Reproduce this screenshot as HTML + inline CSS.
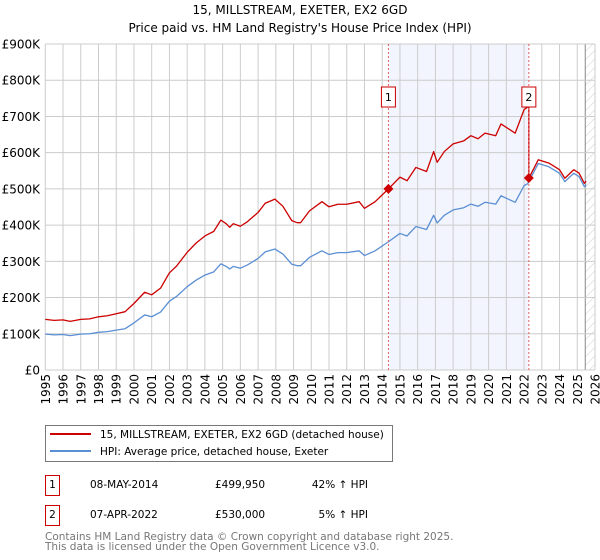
<!DOCTYPE html>
<html><head><meta charset="utf-8"><style>
body{margin:0;background:#fff;}
svg{display:block;font-family:"DejaVu Sans","Liberation Sans",sans-serif;}
</style></head><body>
<svg id="chart" width="600" height="560" viewBox="0 0 600 560" xmlns="http://www.w3.org/2000/svg">
<defs>
<pattern id="hatch" width="6" height="6" patternUnits="userSpaceOnUse" patternTransform="rotate(45)">
<line x1="0" y1="0" x2="0" y2="6" stroke="#ccc" stroke-width="1"/>
</pattern>
</defs>
<text x="300" y="14" text-anchor="middle" font-size="12">15, MILLSTREAM, EXETER, EX2 6GD</text>
<text x="300" y="32" text-anchor="middle" font-size="12">Price paid vs. HM Land Registry's House Price Index (HPI)</text>
<g id="plot"></g>
<g>
<rect x="45.5" y="425.5" width="347" height="36" fill="#fff" stroke="#777"/>
<line x1="50" y1="434" x2="91" y2="434" stroke="#cc0000" stroke-width="2"/>
<text x="100" y="438" font-size="10.5">15, MILLSTREAM, EXETER, EX2 6GD (detached house)</text>
<line x1="50" y1="451" x2="91" y2="451" stroke="#5b8fd4" stroke-width="2"/>
<text x="100" y="455" font-size="10.5">HPI: Average price, detached house, Exeter</text>
</g>
<g font-size="10.5">
<rect x="45.5" y="475.5" width="14" height="20" fill="#fff" stroke="#cc0000"/>
<text x="52.5" y="488" text-anchor="middle">1</text>
<text x="90" y="488">08-MAY-2014</text>
<text x="215" y="488">£499,950</text>
<text x="368" y="488" text-anchor="end">42% ↑ HPI</text>
<rect x="45.5" y="505.5" width="14" height="20" fill="#fff" stroke="#cc0000"/>
<text x="52.5" y="518" text-anchor="middle">2</text>
<text x="90" y="518">07-APR-2022</text>
<text x="215" y="518">£530,000</text>
<text x="368" y="518" text-anchor="end">5% ↑ HPI</text>
</g>
<text x="45" y="540" font-size="10.5" fill="#777">Contains HM Land Registry data © Crown copyright and database right 2025.</text>
<text x="45" y="550" font-size="10.5" fill="#777">This data is licensed under the Open Government Licence v3.0.</text>
</svg>
<script>
const hpiYears=[1995,1995.5,1996,1996.4,1997,1997.5,1998,1998.5,1999,1999.5,2000,2000.6,2001,2001.5,2002,2002.4,2003,2003.5,2004,2004.5,2004.9,2005.2,2005.4,2005.6,2006,2006.4,2006.7,2007,2007.4,2007.95,2008.4,2008.9,2009.2,2009.4,2009.9,2010.6,2011,2011.5,2012,2012.7,2013,2013.6,2014.35,2015,2015.4,2015.9,2016.5,2016.9,2017.1,2017.5,2018,2018.6,2019,2019.4,2019.8,2020.4,2020.7,2021.1,2021.5,2022,2022.2,2022.8,2023.4,2024,2024.3,2024.8,2025.1,2025.4,2025.5];
const hpiValues=[99,97,98,95,99,100,104,106,110,114,130,152,147,160,190,203,230,248,262,271,293,286,279,286,281,290,299,308,326,334,320,292,288,288,311,329,319,324,324,329,316,329,354,377,370,396,388,427,406,427,442,448,458,452,463,458,481,472,463,509,514,570,561,543,520,543,534,506,512];
const saleYears=[2014.35,2022.27];
const salePrices=[499950,530000];
const saleLabels=["1","2"];
const yTicks=[0,100000,200000,300000,400000,500000,600000,700000,800000,900000];
const yTickLabels=["£0","£100K","£200K","£300K","£400K","£500K","£600K","£700K","£800K","£900K"];
const xTicks=[1995,1996,1997,1998,1999,2000,2001,2002,2003,2004,2005,2006,2007,2008,2009,2010,2011,2012,2013,2014,2015,2016,2017,2018,2019,2020,2021,2022,2023,2024,2025,2026];

const X0=45.3,X1=595,Y0=370,Y1=44;
const xs=y=>X0+(y-1995)/(2026-1995)*(X1-X0);
const ys=v=>Y0-v/900000*(Y0-Y1);
const NS="http://www.w3.org/2000/svg";
const g=document.getElementById('plot');
function mk(tag,attrs,parent){const e=document.createElementNS(NS,tag);for(const k in attrs)e.setAttribute(k,attrs[k]);(parent||g).appendChild(e);return e;}

const sh=mk('rect',{x:xs(saleYears[0]),y:Y1,width:xs(saleYears[1])-xs(saleYears[0]),height:Y0-Y1,fill:'#f2f5fd'});


const ht=mk('rect',{x:xs(2025.45),y:Y1,width:X1-xs(2025.45),height:Y0-Y1,fill:'url(#hatch)'});


mk('line',{x1:xs(2025.45),y1:Y1,x2:xs(2025.45),y2:Y0,stroke:'#888','stroke-width':1});

yTicks.forEach((t,i)=>{
  const gl=mk('line',{x1:X0,x2:X1,y1:ys(t),y2:ys(t),stroke:'#ccc','stroke-width':1});
  
  
  const tx=mk('text',{x:40,y:ys(t)+4.5,'text-anchor':'end','font-size':12});
  tx.textContent=yTickLabels[i];
  
  
});
xTicks.forEach(t=>{
  const gl=mk('line',{x1:xs(t),x2:xs(t),y1:Y1,y2:Y0,stroke:'#ccc','stroke-width':1});
  
  
  const tx=mk('text',{x:0,y:0,'text-anchor':'end','font-size':12,transform:`translate(${xs(t)+4.5},374) rotate(-90)`});
  tx.textContent=t;
  
  
});

function hpiAt(y){
  for(let i=0;i<hpiYears.length-1;i++){
    if(y>=hpiYears[i]&&y<=hpiYears[i+1]){const f=(y-hpiYears[i])/(hpiYears[i+1]-hpiYears[i]);return hpiValues[i]+f*(hpiValues[i+1]-hpiValues[i]);}
  }
  return hpiValues[hpiValues.length-1];
}
const hp=mk('polyline',{points:hpiYears.map((y,i)=>xs(y)+','+ys(hpiValues[i]*1000)).join(' '),fill:'none',stroke:'#5b8fd4','stroke-width':1.3,'stroke-linejoin':'round'});



const r1=salePrices[0]/(hpiAt(saleYears[0])*1000);
const r2=salePrices[1]/(hpiAt(saleYears[1])*1000);
let pts=[];
hpiYears.forEach((y,i)=>{ if(y<saleYears[1]) pts.push([y,hpiValues[i]*1000*r1]); });
pts.push([saleYears[1],hpiAt(saleYears[1])*1000*r1]);
pts.push([saleYears[1],salePrices[1]]);
hpiYears.forEach((y,i)=>{ if(y>saleYears[1]) pts.push([y,hpiValues[i]*1000*r2]); });
const pl=mk('polyline',{points:pts.map(p=>xs(p[0])+','+ys(p[1])).join(' '),fill:'none',stroke:'#cc0000','stroke-width':1.3,'stroke-linejoin':'round'});



saleYears.forEach((y,i)=>{
  const x=xs(y);
  const dl=mk('line',{x1:x,x2:x,y1:Y1,y2:Y0,stroke:'#e06060','stroke-width':1,'stroke-dasharray':'2,2'});
  
  
  const py=ys(salePrices[i]);
  const d=mk('polygon',{points:`${x},${py-5} ${x+5},${py} ${x},${py+5} ${x-5},${py}`,fill:'#cc0000'});
  
  
  const b=mk('rect',{x:x-7,y:87,width:14,height:20,fill:'#fff',stroke:'#cc0000','stroke-width':1});
  
  
  const t=mk('text',{x:x,y:101,'text-anchor':'middle','font-size':11});
  t.textContent=saleLabels[i];
  
  
});
</script>
</body></html>
